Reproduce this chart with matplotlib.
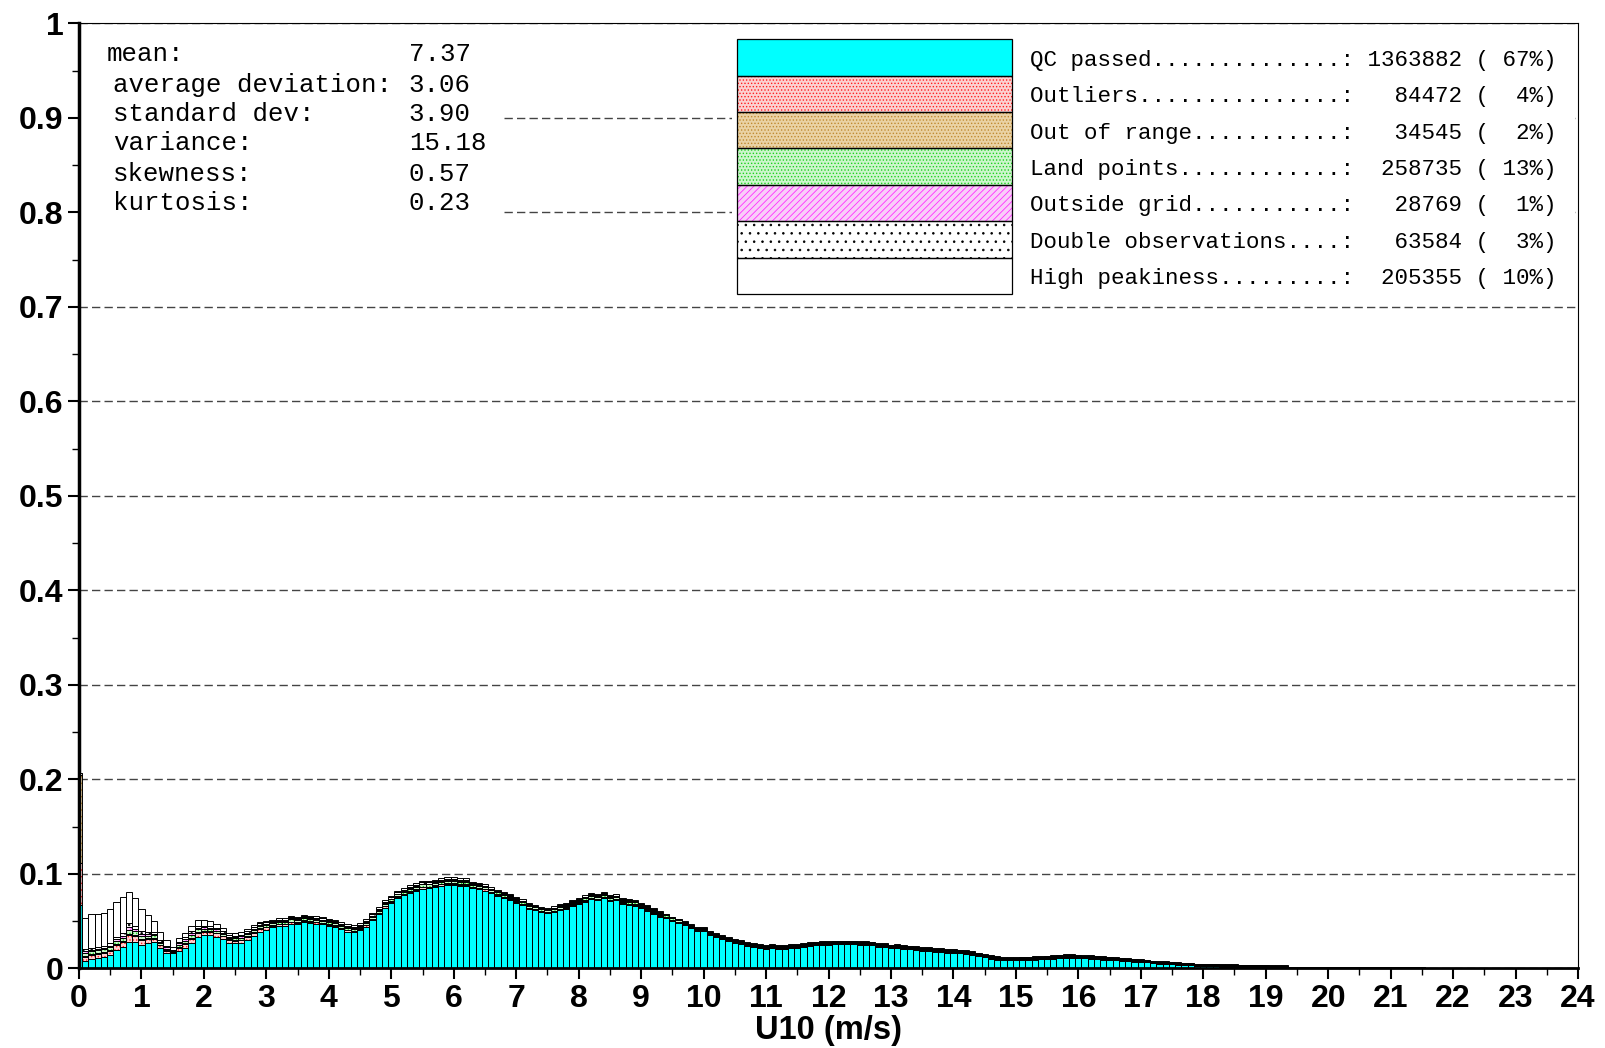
import numpy as np
import matplotlib
matplotlib.use('Agg')
import matplotlib.pyplot as plt
from matplotlib.patches import Rectangle

plt.rcParams['font.family'] = ['Liberation Sans', 'DejaVu Sans']
plt.rcParams['hatch.linewidth'] = 0.6

# U10 histogram, bins of 0.1 m/s centred on 0.0, 0.1, ... 24.0
# bar heights in units of 1e-4 (fraction of observations)
bin_width = 0.1
u10 = np.round(np.arange(241) * bin_width, 1)
unit = 1e-4

qc_passed = [
    670, 83, 104, 115, 125, 143, 196, 231, 284, 284,
    249, 266, 277, 213, 160, 160, 185, 213, 273, 337,
    355, 358, 337, 312, 273, 266, 266, 302, 347, 390,
    407, 439, 453, 453, 474, 467, 489, 478, 474, 467,
    446, 439, 414, 390, 383, 407, 443, 510, 573, 644,
    690, 743, 774, 799, 820, 845, 848, 859, 877, 884,
    884, 873, 873, 848, 838, 824, 795, 771, 743, 728,
    697, 672, 630, 616, 594, 584, 594, 619, 633, 665,
    686, 707, 732, 725, 746, 714, 721, 683, 672, 665,
    636, 610, 580, 549, 538, 506, 485, 457, 432, 397,
    397, 358, 333, 312, 287, 266, 261, 236, 225, 218,
    206, 216, 208, 206, 220, 220, 231, 238, 245, 249,
    249, 256, 256, 256, 256, 252, 249, 245, 231, 231,
    213, 217, 210, 203, 196, 185, 185, 178, 178, 168,
    164, 160, 153, 143, 132, 118, 104, 93, 86, 86,
    86, 90, 90, 93, 97, 101, 104, 111, 115, 115,
    111, 108, 104, 101, 93, 90, 86, 79, 79, 72,
    65, 65, 58, 51, 51, 44, 41, 37, 34, 26,
    23, 23, 23, 19, 19, 19, 16, 16, 16, 12,
    12, 9, 9, 9, 8, 8, 8, 7, 7, 7,
    6, 6, 6, 6, 5, 5, 5, 5, 4, 4,
    4, 4, 4, 3, 3, 3, 3, 3, 3, 2,
    2, 2, 2, 2, 2, 2, 1, 1, 1, 1,
    1, 1, 1, 1, 1, 1, 1, 1, 1, 1,
    1]

outliers = [
    450, 43, 41, 41, 41, 43, 49, 49, 68, 58,
    52, 43, 40, 31, 27, 13, 35, 43, 44, 41,
    34, 33, 33, 29, 28, 28, 32, 32, 33, 32,
    29, 14, 15, 15, 16, 15, 15, 15, 15, 14,
    15, 13, 13, 13, 12, 12, 14, 13, 13, 13,
    14, 14, 13, 14, 14, 15, 14, 15, 14, 14,
    14, 14, 14, 12, 12, 12, 11, 11, 12, 10,
    10, 10, 11, 10, 10, 10, 11, 10, 10, 10,
    11, 12, 11, 11, 11, 11, 11, 11, 11, 11,
    10, 10, 10, 9, 8, 8, 8, 8, 7, 7,
    7, 7, 7, 7, 7, 7, 7, 7, 7, 7,
    7, 7, 7, 7, 7, 7, 7, 7, 7, 7,
    7, 7, 7, 7, 7, 7, 7, 7, 7, 7,
    7, 7, 7, 7, 7, 7, 7, 7, 7, 7,
    7, 7, 7, 7, 6, 6, 6, 6, 6, 6,
    6, 6, 6, 6, 6, 6, 6, 6, 6, 6,
    6, 6, 6, 6, 6, 6, 6, 6, 5, 5,
    5, 4, 4, 4, 4, 4, 4, 4, 4, 4,
    4, 4, 4, 4, 4, 4, 4, 4, 4, 4,
    4, 4, 4, 4, 2, 2, 2, 2, 2, 2,
    2, 2, 2, 2, 2, 2, 2, 2, 2, 2,
    2, 2, 2, 2, 2, 2, 1, 1, 1, 1,
    1, 1, 1, 1, 1, 1, 1, 1, 1, 1,
    1, 1, 1, 1, 1, 1, 1, 1, 1, 1,
    1]

out_of_range = [
    930, 10, 9, 9, 9, 10, 11, 11, 16, 13,
    12, 10, 9, 7, 6, 3, 8, 10, 10, 9,
    8, 7, 8, 7, 6, 6, 7, 7, 7, 7,
    7, 5, 5, 5, 5, 5, 5, 5, 5, 5,
    5, 5, 5, 5, 5, 5, 5, 5, 5, 5,
    5, 5, 5, 5, 5, 5, 5, 5, 5, 5,
    5, 5, 5, 4, 4, 4, 4, 4, 4, 4,
    4, 4, 4, 4, 4, 4, 4, 4, 4, 4,
    4, 4, 4, 4, 4, 4, 4, 4, 4, 4,
    4, 4, 4, 4, 3, 3, 3, 3, 3, 3,
    3, 3, 3, 3, 3, 3, 3, 3, 3, 3,
    3, 3, 3, 2, 2, 2, 2, 2, 2, 2,
    2, 2, 2, 2, 2, 2, 2, 2, 2, 2,
    2, 2, 2, 2, 2, 2, 2, 2, 2, 2,
    2, 2, 2, 2, 2, 2, 2, 2, 2, 2,
    2, 2, 2, 2, 2, 2, 2, 2, 2, 2,
    2, 2, 2, 2, 2, 2, 2, 2, 2, 2,
    2, 1, 1, 1, 1, 1, 1, 1, 1, 1,
    1, 1, 1, 1, 1, 1, 1, 1, 1, 1,
    1, 1, 1, 1, 1, 1, 1, 1, 1, 1,
    1, 1, 1, 1, 1, 1, 1, 1, 1, 1,
    1, 1, 1, 1, 1, 1, 0, 0, 0, 0,
    0, 0, 0, 0, 0, 0, 0, 0, 0, 0,
    0, 0, 0, 0, 0, 0, 0, 0, 0, 0,
    0]

land_points = [
    0, 27, 26, 26, 26, 27, 31, 31, 43, 37,
    33, 27, 25, 20, 17, 8, 22, 27, 28, 26,
    22, 20, 21, 18, 18, 18, 20, 20, 20, 20,
    18, 21, 23, 23, 24, 23, 22, 23, 22, 21,
    22, 20, 21, 20, 18, 18, 21, 21, 21, 20,
    21, 21, 21, 22, 23, 24, 22, 23, 22, 22,
    22, 22, 22, 20, 21, 20, 19, 19, 20, 17,
    17, 16, 18, 16, 16, 17, 18, 17, 17, 17,
    18, 20, 19, 19, 18, 18, 18, 19, 18, 19,
    16, 16, 16, 15, 12, 12, 12, 12, 12, 12,
    12, 12, 12, 12, 12, 12, 12, 12, 12, 12,
    12, 12, 12, 11, 11, 11, 11, 11, 11, 11,
    11, 11, 11, 11, 11, 11, 11, 11, 11, 11,
    11, 11, 11, 11, 11, 11, 11, 11, 11, 11,
    11, 11, 11, 11, 10, 10, 10, 10, 10, 10,
    10, 10, 10, 10, 10, 10, 10, 10, 10, 10,
    10, 10, 10, 10, 10, 10, 10, 10, 10, 10,
    10, 8, 8, 8, 8, 8, 8, 8, 8, 8,
    8, 8, 8, 8, 8, 8, 8, 8, 8, 8,
    8, 8, 8, 8, 4, 4, 4, 4, 4, 4,
    4, 4, 4, 4, 4, 4, 4, 4, 4, 4,
    4, 4, 4, 4, 4, 4, 2, 2, 2, 2,
    2, 2, 2, 2, 2, 2, 2, 2, 2, 2,
    2, 2, 2, 2, 2, 2, 2, 2, 2, 2,
    2]

outside_grid = [
    0, 18, 17, 17, 18, 18, 21, 21, 29, 25,
    22, 19, 17, 13, 12, 5, 15, 19, 19, 17,
    15, 14, 14, 12, 12, 12, 14, 14, 14, 14,
    13, 10, 10, 10, 10, 10, 10, 10, 10, 10,
    10, 10, 10, 10, 10, 10, 10, 10, 10, 10,
    10, 10, 10, 10, 10, 10, 10, 10, 10, 10,
    10, 10, 10, 8, 8, 8, 8, 8, 8, 8,
    8, 8, 8, 8, 8, 8, 8, 8, 8, 8,
    8, 8, 8, 8, 8, 8, 8, 8, 8, 8,
    8, 8, 8, 8, 5, 5, 5, 5, 5, 5,
    5, 5, 5, 5, 5, 5, 5, 5, 5, 5,
    5, 5, 5, 5, 5, 5, 5, 5, 5, 5,
    5, 5, 5, 5, 5, 5, 5, 5, 5, 5,
    5, 5, 5, 5, 5, 5, 5, 5, 5, 5,
    5, 5, 5, 5, 4, 4, 4, 4, 4, 4,
    4, 4, 4, 4, 4, 4, 4, 4, 4, 4,
    4, 4, 4, 4, 4, 4, 4, 4, 4, 4,
    4, 3, 3, 3, 3, 3, 3, 3, 3, 3,
    3, 3, 3, 3, 3, 3, 3, 3, 3, 3,
    3, 3, 3, 3, 1, 1, 1, 1, 1, 1,
    1, 1, 1, 1, 1, 1, 1, 1, 1, 1,
    1, 1, 1, 1, 1, 1, 1, 1, 1, 1,
    1, 1, 1, 1, 1, 1, 1, 1, 1, 1,
    1, 1, 1, 1, 1, 1, 1, 1, 1, 1,
    1]

double_obs = [
    20, 25, 23, 23, 23, 25, 29, 29, 38, 33,
    29, 25, 22, 18, 16, 7, 19, 25, 26, 23,
    19, 19, 18, 17, 17, 17, 19, 19, 19, 18,
    17, 12, 12, 12, 12, 12, 12, 12, 12, 12,
    12, 12, 12, 12, 12, 12, 12, 12, 12, 12,
    12, 12, 12, 12, 12, 12, 12, 12, 12, 12,
    12, 12, 12, 9, 9, 9, 9, 9, 9, 9,
    9, 9, 9, 9, 9, 9, 9, 9, 9, 9,
    9, 9, 9, 9, 9, 9, 9, 9, 9, 9,
    9, 9, 9, 9, 6, 6, 6, 6, 6, 6,
    6, 6, 6, 6, 6, 6, 6, 6, 6, 6,
    6, 6, 6, 6, 6, 6, 6, 6, 6, 6,
    6, 6, 6, 6, 6, 6, 6, 6, 6, 6,
    6, 6, 6, 6, 6, 6, 6, 6, 6, 6,
    6, 6, 6, 6, 5, 5, 5, 5, 5, 5,
    5, 5, 5, 5, 5, 5, 5, 5, 5, 5,
    5, 5, 5, 5, 5, 5, 5, 5, 5, 5,
    5, 4, 4, 4, 4, 4, 4, 4, 4, 4,
    4, 4, 4, 4, 4, 4, 4, 4, 4, 4,
    4, 4, 4, 4, 2, 2, 2, 2, 2, 2,
    2, 2, 2, 2, 2, 2, 2, 2, 2, 2,
    2, 2, 2, 2, 2, 2, 1, 1, 1, 1,
    1, 1, 1, 1, 1, 1, 1, 1, 1, 1,
    1, 1, 1, 1, 1, 1, 1, 1, 1, 1,
    1]

high_peakiness = [
    0, 325, 353, 342, 342, 360, 363, 388, 335, 293,
    230, 176, 116, 81, 64, 35, 35, 35, 50, 60,
    60, 55, 40, 30, 25, 25, 25, 20, 20, 15,
    15, 17, 17, 17, 17, 17, 17, 17, 17, 17,
    17, 17, 17, 17, 17, 17, 17, 17, 17, 17,
    17, 17, 17, 17, 17, 17, 17, 17, 17, 17,
    17, 17, 17, 13, 13, 13, 13, 13, 13, 13,
    13, 13, 13, 13, 13, 13, 13, 13, 13, 13,
    13, 13, 13, 13, 13, 13, 13, 13, 13, 13,
    13, 13, 13, 13, 9, 9, 9, 9, 9, 9,
    9, 9, 9, 9, 9, 9, 9, 9, 9, 9,
    9, 9, 9, 8, 8, 8, 8, 8, 8, 8,
    8, 8, 8, 8, 8, 8, 8, 8, 8, 8,
    8, 8, 8, 8, 8, 8, 8, 8, 8, 8,
    8, 8, 8, 8, 7, 7, 7, 7, 7, 7,
    7, 7, 7, 7, 7, 7, 7, 7, 7, 7,
    7, 7, 7, 7, 7, 7, 7, 7, 7, 7,
    7, 5, 5, 5, 5, 5, 5, 5, 5, 5,
    5, 5, 5, 5, 5, 5, 5, 5, 5, 5,
    5, 5, 5, 5, 2, 2, 2, 2, 2, 2,
    2, 2, 2, 2, 2, 2, 2, 2, 2, 2,
    2, 2, 2, 2, 2, 2, 1, 1, 1, 1,
    1, 1, 1, 1, 1, 1, 1, 1, 1, 1,
    1, 1, 1, 1, 1, 1, 1, 1, 1, 1,
    1]

# legend / summary
categories = ['QC passed', 'Outliers', 'Out of range', 'Land points',
              'Outside grid', 'Double observations', 'High peakiness']
counts = [1363882, 84472, 34545, 258735, 28769, 63584, 205355]
percents = [67, 4, 2, 13, 1, 3, 10]

stat_names = ['mean:', 'average deviation:', 'standard dev:', 'variance:',
              'skewness:', 'kurtosis:']
stat_values = ['7.37', '3.06', '3.90', '15.18', '0.57', '0.23']

series = [qc_passed, outliers, out_of_range, land_points, outside_grid,
          double_obs, high_peakiness]
faces = ['#00ffff', '#fcd2d2', '#ead2a4', '#cdf6cd', '#f9cdf9', '#ffffff', '#ffffff']
hatch_cols = ['#00ffff', '#ff2020', '#c08a30', '#20d020', '#ff30ff', '#000000', '#ffffff']
hatches = [None, '.....', '.....', '.....', '/////', '..', None]

fig = plt.figure(figsize=(16.05, 10.48), dpi=100)
ax = fig.add_axes([0.0492, 0.0759, 0.9340, 0.9017])

bottom = np.zeros(len(u10))
for vals, fc, hc, ht in zip(series, faces, hatch_cols, hatches):
    h = np.array(vals) * unit
    ax.bar(u10, h, bin_width, bottom=bottom, color=fc, edgecolor=hc,
           hatch=ht, linewidth=0, zorder=2)
    ax.bar(u10, h, bin_width, bottom=bottom, fill=False, edgecolor='black',
           linewidth=0.7, zorder=3)
    bottom += h

ax.set_xlim(0, 24)
ax.set_ylim(0, 1)
ax.set_xticks(range(25))
ax.set_xticks(np.arange(0.5, 24, 1), minor=True)
yt = np.round(np.arange(0, 1.01, 0.1), 1)
ax.set_yticks(yt)
ax.set_yticklabels(['0'] + ['%.1f' % v for v in yt[1:-1]] + ['1'])
ax.set_yticks(np.arange(0.05, 1, 0.1), minor=True)
ax.tick_params(which='major', direction='out', length=8, width=1.5,
               labelsize=23, pad=3)
ax.tick_params(which='minor', direction='out', length=5, width=1)
for lab in ax.get_xticklabels() + ax.get_yticklabels():
    lab.set_fontweight('bold')

ax.grid(axis='y', color='#444444', linewidth=1.0, linestyle=(0, (6, 3)), zorder=1)
ax.set_axisbelow(True)

ax.spines['left'].set_linewidth(2.5)
ax.spines['bottom'].set_linewidth(2.0)
ax.spines['top'].set_linewidth(0.8)
ax.spines['right'].set_linewidth(0.8)

ax.set_xlabel('U10 (m/s)', fontsize=23.5, fontweight='bold', labelpad=1)

# opaque panels behind the statistics and the legend (the grid shows between them)
ax.add_patch(Rectangle((0.04, 0.78), 6.73, 0.215, facecolor='white',
                       edgecolor='none', zorder=1.5))
ax.add_patch(Rectangle((10.45, 0.735), 13.5, 0.26, facecolor='white',
                       edgecolor='none', zorder=1.5))

# statistics block
stat_y = [0.968, 0.935, 0.904, 0.873, 0.841, 0.810]
for i, (nm, val) in enumerate(zip(stat_names, stat_values)):
    x0 = 0.45 if i == 0 else 0.54
    ax.text(x0, stat_y[i], nm, family='Liberation Mono', fontsize=18.5,
            va='center', ha='left', zorder=5)
    ax.text(5.28, stat_y[i], val, family='Liberation Mono', fontsize=18.5,
            va='center', ha='left', zorder=5)

# legend box
box_x0, box_x1 = 10.54, 14.93
row_top, row_h = 0.9833, 0.0385
for i, name in enumerate(categories):
    yb = row_top - (i + 1) * row_h
    ax.add_patch(Rectangle((box_x0, yb), box_x1 - box_x0, row_h,
                           facecolor=faces[i], edgecolor=hatch_cols[i],
                           hatch=hatches[i], linewidth=0, zorder=4))
    ax.add_patch(Rectangle((box_x0, yb), box_x1 - box_x0, row_h,
                           fill=False, edgecolor='black', linewidth=0.9, zorder=5))
    label = '%s: %7d (%3d%%)' % (name.ljust(23, '.'), counts[i], percents[i])
    ax.text(15.22, yb + row_h / 2 - 0.003, label, family='Liberation Mono',
            fontsize=16.2, va='center', ha='left', zorder=5)

fig.savefig('out.png', dpi=100)
